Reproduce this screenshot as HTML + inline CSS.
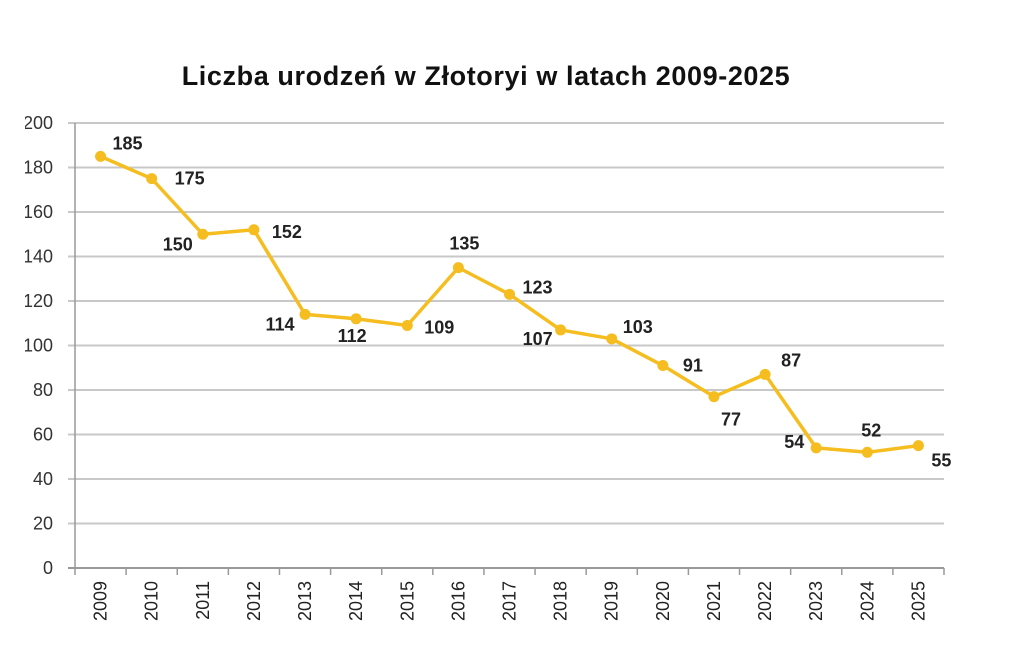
<!DOCTYPE html>
<html><head><meta charset="utf-8"><style>
html,body{margin:0;padding:0;background:#fff;}
svg{display:block;font-family:"Liberation Sans",Arial,sans-serif;}
</style></head><body>
<svg id="chart" width="1024" height="665" viewBox="0 0 1024 665">
<text x="486" y="85" text-anchor="middle" font-size="27" font-weight="bold" letter-spacing="0.6" fill="#111">Liczba urodzeń w Złotoryi w latach 2009-2025</text>
<g id="grid"></g><g id="axes"></g><g id="series"></g><g id="labels"></g>
<rect x="0" y="100" width="25" height="480" fill="#fff"/>
</svg>
<script>
const years=["2009","2010","2011","2012","2013","2014","2015","2016","2017","2018","2019","2020","2021","2022","2023","2024","2025"];
const births=[185,175,150,152,114,112,109,135,123,107,103,91,77,87,54,52,55];
const yTicks=[0,20,40,60,80,100,120,140,160,180,200];
const labelDx=[27,38,-25,33,-25,-4,32,6,28,-23,26,30,17,26,-22,4,23];
const labelDy=[-13,0,10,2,10,17,2,-24,-7,9,-12,0,23,-14,-6,-22,15];
const NS="http://www.w3.org/2000/svg";
const x0=75,x1=944,yb=568,yt=123;
const step=(x1-x0)/years.length;
const X=i=>x0+step*(i+0.5);
const Y=v=>yb-(v/200)*(yb-yt);
function mk(t,a,p){const e=document.createElementNS(NS,t);for(const k in a)e.setAttribute(k,a[k]);p.appendChild(e);return e;}
const grid=document.getElementById('grid'),axes=document.getElementById('axes'),ser=document.getElementById('series'),lab=document.getElementById('labels');
yTicks.forEach(v=>{
 const l=mk('line',{x1:68,x2:x1,y1:Y(v),y2:Y(v),stroke:v===0?'#999':'#c8c8c8','stroke-width':2},grid);
 
 
 const t=mk('text',{x:53,y:Y(v)+6,'text-anchor':'end','font-size':18,fill:'#333'},axes);
 t.textContent=v;
 
 
});
const ax=mk('line',{x1:x0,x2:x0,y1:yt,y2:yb,stroke:'#999','stroke-width':1.5},axes);


for(let k=0;k<=years.length;k++){
 const tk=mk('line',{x1:x0+step*k,x2:x0+step*k,y1:yb,y2:yb+7,stroke:'#999','stroke-width':1.5},axes);
 
 
}
years.forEach((y,i)=>{
 const t=mk('text',{x:0,y:0,'text-anchor':'end','font-size':18,fill:'#222',transform:`translate(${X(i)+6},${yb+13}) rotate(-90)`},axes);
 t.textContent=y;
 
 
});
const pl=mk('polyline',{points:births.map((v,i)=>X(i)+','+Y(v)).join(' '),fill:'none',stroke:'#F5BD1F','stroke-width':3.5,'stroke-linejoin':'round'},ser);


births.forEach((v,i)=>{
 const c=mk('circle',{cx:X(i),cy:Y(v),r:5.5,fill:'#F5BD1F'},ser);
 
 
 const t=mk('text',{x:X(i)+labelDx[i],y:Y(v)+labelDy[i]+6,'text-anchor':'middle','font-size':18,'font-weight':'bold',fill:'#222'},lab);
 t.textContent=v;
 
 
});
</script>
</body></html>
